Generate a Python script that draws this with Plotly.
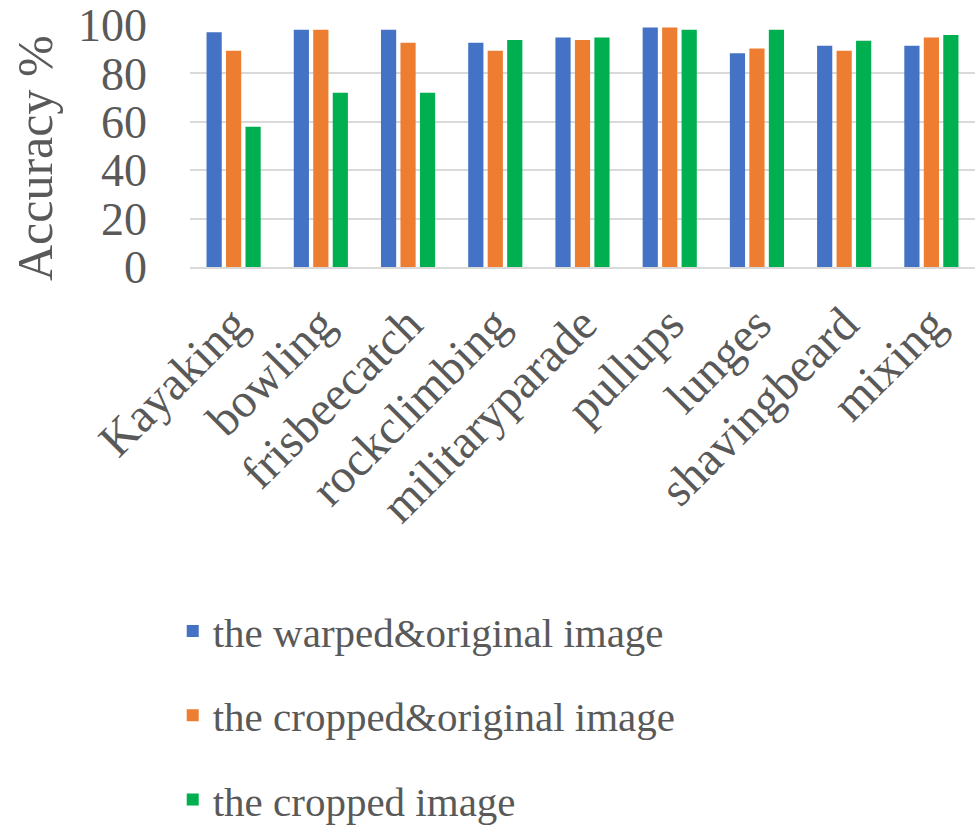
import plotly.graph_objects as go

categories = ["Kayaking", "bowling", "frisbeecatch", "rockclimbing", "militaryparade",
              "pullups", "lunges", "shavingbeard", "mixing"]

warped_original = [97, 98, 98, 92.7, 94.8, 99, 88.3, 91.4, 91.4]
cropped_original = [89.4, 98, 92.7, 89.4, 93.8, 99, 90.3, 89.4, 94.8]
cropped_only = [58, 72, 72, 93.8, 94.8, 98, 98, 93.5, 95.9]

series_names = ["the warped&original image", "the cropped&original image", "the cropped image"]
series_colors = ["#4472C4", "#ED7D31", "#00B050"]
series_values = [warped_original, cropped_original, cropped_only]

font_family = "Liberation Serif, Times New Roman, serif"
text_color = "#595959"

fig = go.Figure()
for i, (name, color, vals) in enumerate(zip(series_names, series_colors, series_values)):
    fig.add_trace(go.Bar(
        x=categories, y=vals, name=name,
        marker=dict(color=color, line=dict(width=0)),
        legendgroup=f"g{i}",
    ))

# Vertical axis title placed as a rotated annotation left of the tick labels
fig.add_annotation(
    text="Accuracy %", textangle=-90,
    xref="paper", yref="paper", x=-0.1975, y=0.45,
    xanchor="center", yanchor="middle", showarrow=False,
    font=dict(size=50, family=font_family, color=text_color),
)

fig.update_layout(
    width=977, height=828,
    margin=dict(l=190, r=2, t=25, b=561, autoexpand=False),
    paper_bgcolor="white", plot_bgcolor="white",
    barmode="group", bargap=0.33, bargroupgap=0.22,
    font=dict(family=font_family, color=text_color, size=45),
    showlegend=True,
    legend=dict(
        orientation="v", x=-0.022, xanchor="left", y=-1.367, yanchor="top",
        font=dict(family=font_family, size=41, color=text_color),
        tracegroupgap=28, itemwidth=30,
        bgcolor="rgba(0,0,0,0)",
    ),
    xaxis=dict(
        tickangle=-45, tickfont=dict(size=48, family=font_family, color=text_color),
        showline=True, linecolor="#d9d9d9", linewidth=1.5,
        showgrid=False, ticks="", automargin=False,
        ticklabelstandoff=8,
    ),
    yaxis=dict(
        range=[0, 100], tickvals=[0, 20, 40, 60, 80, 100],
        tickfont=dict(size=46, family=font_family, color=text_color),
        showgrid=True, gridcolor="#d9d9d9", gridwidth=1.5,
        zeroline=False, showline=False, ticks="",
        ticklabelstandoff=42, automargin=False,
    ),
)

fig.write_html("out.html")
